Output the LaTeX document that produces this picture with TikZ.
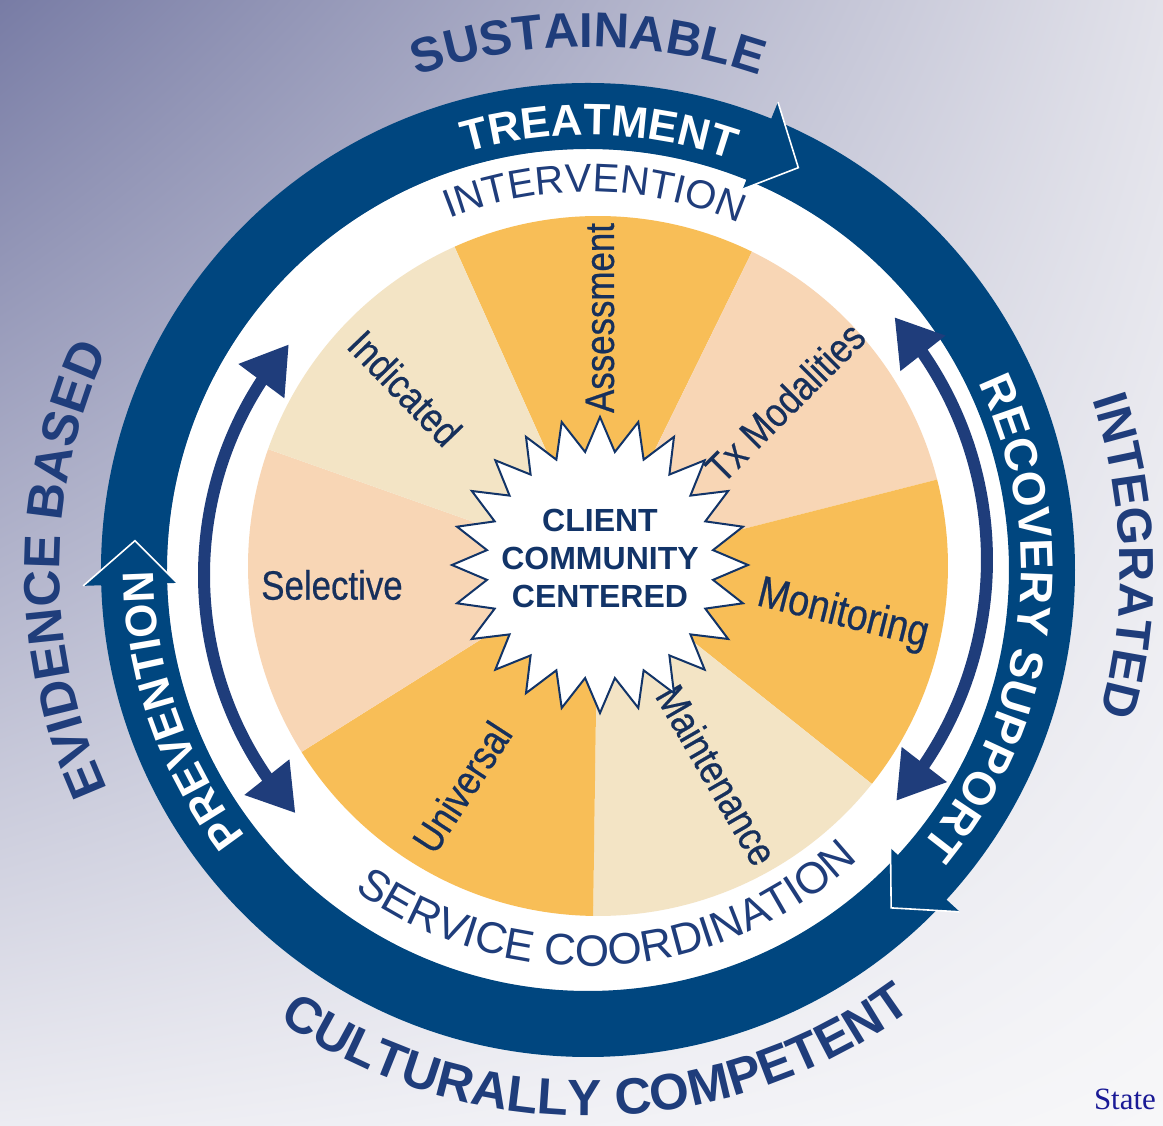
\documentclass[tikz,border=0pt]{standalone}
\usepackage{fontspec}
\setmainfont{Liberation Sans}
\newfontfamily\narrowsans{Liberation Sans}[FakeStretch=0.85, FakeBold=0.5]
\newfontfamily\stateserif{Liberation Serif}
\usetikzlibrary{math}
\usetikzlibrary{shadings}
\usetikzlibrary{arrows.meta,bending}
\usetikzlibrary{decorations.text}

\definecolor{bandblue}{RGB}{0,70,127}
\definecolor{navy}{RGB}{31,61,123}
\definecolor{labelnavy}{RGB}{22,48,92}
\definecolor{hubnavy}{RGB}{18,52,104}
\definecolor{segorange}{RGB}{248,190,87}
\definecolor{segpeach}{RGB}{248,214,181}
\definecolor{segcream}{RGB}{243,228,197}
\definecolor{bgtl}{RGB}{120,124,165}
\definecolor{bgtr}{RGB}{226,226,234}
\definecolor{bgbl}{RGB}{236,236,242}
\definecolor{bgbr}{RGB}{247,247,249}
\definecolor{statecol}{RGB}{26,26,150}

\newcommand{\outerfont}{\fontsize{49}{49}\selectfont\bfseries}
\newcommand{\bigouterfont}{\fontsize{51}{51}\selectfont\bfseries}
\newcommand{\bandfont}{\fontsize{44}{44}\selectfont\bfseries}
\newcommand{\ringfont}{\fontsize{40}{40}\selectfont}

\begin{document}
\begin{tikzpicture}[x=1pt, y=1pt]
\tikzset{
  arctext/.style n args={3}{decorate, decoration={text along path, text align=center, text color=#1, text={|#2|#3}}},
  seglabel/.style={font=\narrowsans\fontsize{41}{48}\selectfont, text=labelnavy, inner sep=0pt},
  innerarrow/.style={draw=navy, line width=12pt, {Triangle[length=46pt, width=54pt]}-{Triangle[length=46pt, width=54pt]}},
  bandhead/.style={fill=bandblue},
  headedge/.style={draw=white, line width=1.6pt, line join=miter},
  starline/.style={draw=hubnavy, line width=2pt, fill=white, line join=miter},
}

\tikzmath{\ringin=421; \ringout=487; \rpie=350; \rstarout=148; \rstarin=114;}

\useasboundingbox (-588,-556) rectangle (575,570);
\shade[upper left=bgtl, upper right=bgtr, lower left=bgbl, lower right=bgbr] (-588,-556) rectangle (575,570);

% ring
\fill[white] (0,0) circle[radius=\ringin];
\fill[bandblue, even odd rule] (0,0) circle[radius=\ringout] (0,0) circle[radius=\ringin];
\foreach \a in {176.3, 62.4, -48.1} {
  \fill[bandhead] ({\a+5.5}:505) -- (\a:454) -- ({\a+5.5}:411) -- cycle;
  \draw[headedge] ({\a+5.5}:505) -- (\a:454) -- ({\a+5.5}:411);
}

\path[arctext={white}{\bandfont}{TREATMENT}] (121:435) arc[start angle=121, end angle=56, radius=435];
\path[arctext={white}{\fontsize{46}{46}\selectfont\bfseries}{RECOVERY SUPPORT}] (45:433) arc[start angle=45, end angle=-59, radius=433];
\path[arctext={white}{\bandfont}{PREVENTION}] (240:434) arc[start angle=240, end angle=158, radius=434];

% pie
\coordinate (pc) at (10,4);
\foreach \a/\b/\c in {114.2/63.9/segorange, 63.9/14.3/segpeach, 14.3/-38.5/segorange, -38.5/-90.8/segcream, -90.8/-147.9/segorange, -147.9/-199.5/segpeach, 160.5/114.2/segcream}
  \fill[\c] (pc) -- ++(\a:\rpie) arc[start angle=\a, end angle=\b, radius=\rpie] -- cycle;

\node[seglabel, rotate=90] (assess) at (12,252) {Assessment};
\node[seglabel, rotate=45] (txmod) at (197,168) {Tx Modalities};
\node[seglabel, rotate=-14, font=\narrowsans\fontsize{44}{48}\selectfont] (monit) at (255,-45) {Monitoring};
\node[seglabel, rotate=-60] (maint) at (129,-205) {Maintenance};
\node[seglabel, rotate=57] (univ) at (-126,-217) {Universal};
\node[seglabel] (select) at (-256,-15) {Selective};
\node[seglabel, rotate=-46] (indic) at (-183,182) {Indicated};

% star
\draw[starline, shift={(12,5)}] (90:\rstarout)
  \foreach \i [evaluate=\i as \rr using {mod(\i,2)==0 ? \rstarout : \rstarin}] in {1,...,47} { -- ({90+7.5*\i}:\rr) } -- cycle;
\node[font=\fontsize{32}{38}\selectfont\bfseries, text=hubnavy, align=center, inner sep=0pt] (hub) at (12,12) {CLIENT\\COMMUNITY\\CENTERED};

% double arrows
\draw[innerarrow] ([shift={(-28,-5)}]139.6:356) arc[start angle=139.6, end angle=222, radius=356];
\draw[innerarrow] ([shift={(34,10)}]41.7:365) arc[start angle=41.7, end angle=-41.3, radius=365];

\path[arctext={navy}{\ringfont}{INTERVENTION}] (125:378) arc[start angle=125, end angle=53, radius=378];
\path[arctext={navy}{\fontsize{44}{44}\selectfont}{SERVICE COORDINATION}] (213:396) arc[start angle=213, end angle=334, radius=396];

\path[arctext={navy}{\outerfont}{SUSTAINABLE}] (135:523) arc[start angle=135, end angle=45, radius=523];
\path[arctext={navy}{\outerfont}{INTEGRATED}] (46.5:532) arc[start angle=46.5, end angle=-43.5, radius=532];
\path[arctext={navy}{\bigouterfont}{EVIDENCE BASED}] (225:528) arc[start angle=225, end angle=135, radius=528];
\path[arctext={navy}{\bigouterfont}{CULTURALLY COMPETENT}] (210:546) arc[start angle=210, end angle=332, radius=546];

\node[font=\stateserif\fontsize{31}{31}\selectfont, text=statecol, anchor=base, inner sep=0pt] (state) at (537,-540) {State};
\end{tikzpicture}
\end{document}
